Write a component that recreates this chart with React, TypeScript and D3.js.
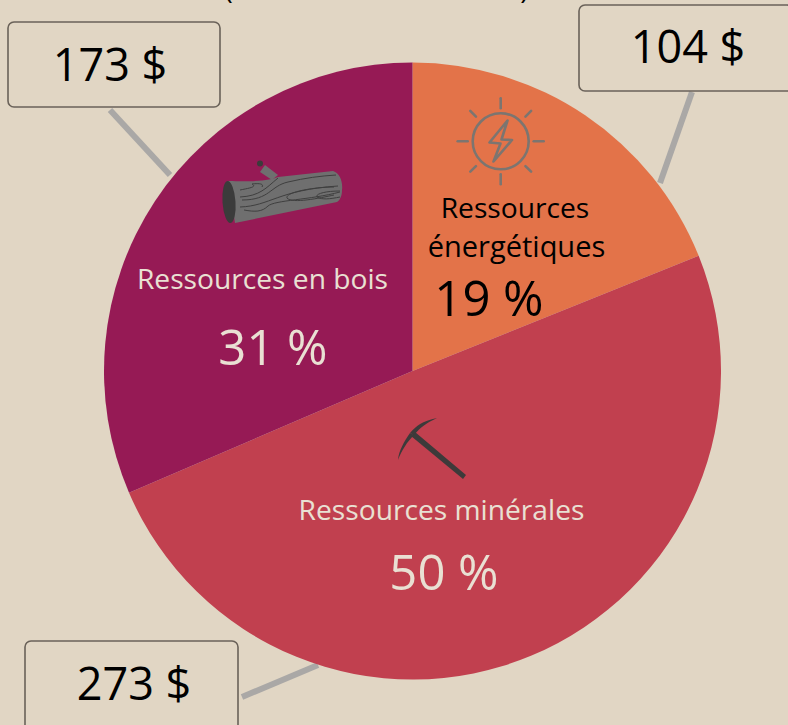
import * as d3 from "d3";

const categories = ["Ressources énergétiques", "Ressources minérales", "Ressources en bois"];
const amounts = [104, 273, 173];
const shares = ["19 %", "50 %", "31 %"];
const amountLabels = ["104 $", "273 $", "173 $"];
const colors = ["#e37349", "#c1404f", "#961a55"];

const W = 788;
const H = 725;
const cx = 412.5;
const cy = 371;
const radius = 308.5;
const font = "'Open Sans', sans-serif";
const bg = "#e1d6c4";
const light = "#e9e0d3";

// callout boxes and leader lines
const boxes = [
  { x: 579, y: 5, w: 214, h: 86, tx: 688, ty: 63, line: [692, 92, 660, 183] },
  { x: 25, y: 641, w: 213, h: 90, tx: 134, ty: 700, line: [242, 697, 318, 665] },
  { x: 8, y: 22, w: 212, h: 85, tx: 110, ty: 81, line: [110, 110, 170, 175] },
];

const sunRays = d3.range(8).map((i) => (i * Math.PI) / 4);

function LogIcon() {
  return (
    <g transform="translate(200,140)">
      <path d="M60,32 L65,25 L78,35 L72,40 Z" fill="#6f6f6f" />
      <circle cx={60} cy={23.5} r={3} fill="#3b3b3b" />
      <path d="M28,41 C60,42 70,40 78,37 L133,31 C140,33 143,42 142,50 C142,56 140,60 137,62 L35,83 Z" fill="#6f6f6f" />
      <ellipse cx={29} cy={62} rx={6.5} ry={21} fill="#3b3b3b" transform="rotate(-4 29 62)" />
      <g fill="none" stroke="#3f3f3f" strokeWidth={1}>
        <path d="M40,50 C50,48 57,47 52,44 C60,43 64,44 62,47" />
        <path d="M40,57 C60,56 66,48 78,38" />
        <path d="M42,60 C70,60 70,46 88,42 C105,38 120,36 136,35" />
        <path d="M40,67 C70,66 78,50 138,46" />
        <path d="M44,70 C55,72 62,72 68,66 C75,60 110,60 140,52" />
        <path d="M134,47 C115,47 85,52 87,58 C92,64 120,58 134,55" />
        <path d="M140,51 C125,51 115,54 117,57 C122,60 130,59 140,57" />
      </g>
    </g>
  );
}

function SunIcon() {
  const sx = 500.7;
  const sy = 141.3;
  return (
    <g stroke="#7c7570" fill="none" strokeWidth={2.6} strokeLinecap="round" strokeLinejoin="round">
      <circle cx={sx} cy={sy} r={28} />
      {sunRays.map((a, i) => {
        const long = i % 2 === 0;
        const r0 = long ? 33 : 35;
        const r1 = 43;
        return (
          <line
            key={i}
            x1={sx + r0 * Math.sin(a)}
            y1={sy - r0 * Math.cos(a)}
            x2={sx + r1 * Math.sin(a)}
            y2={sy - r1 * Math.cos(a)}
          />
        );
      })}
      <path d="M507.5,120.5 L489.5,142.5 L500.5,143.5 L493.5,161.5 L512,140 L501.5,139.5 Z" />
    </g>
  );
}

function PickIcon() {
  return (
    <g transform="translate(380,405)" fill="#3d3a3a">
      <path d="M31,31 L35,27 L86,70 L83,74 Z" />
      <path d="M57,13 C42,16 36,21 30,28 L34,30 C40,23 46,18 57,13 Z" />
      <path d="M18,55 C19,45 24,37 30,28 L34,30 C27,37 22,45 18,55 Z" />
    </g>
  );
}

export default function App() {
  const pie = d3.pie<number>().sort(null).value((d) => d);
  const arc = d3.arc<d3.PieArcDatum<number>>().innerRadius(0).outerRadius(radius);
  const arcs = pie(amounts);

  return (
    <svg
      width={W}
      height={H}
      viewBox={`0 0 ${W} ${H}`}
      style={{ position: "absolute", left: 0, top: 0, background: bg, fontFamily: font }}
    >
      <text x={376.5} y={-1} textAnchor="middle" fontSize={28} fill="#000">
        (en milliards de dollars)
      </text>

      {boxes.map((b, i) => (
        <line
          key={i}
          x1={b.line[0]}
          y1={b.line[1]}
          x2={b.line[2]}
          y2={b.line[3]}
          stroke="#aaa8a6"
          strokeWidth={6}
        />
      ))}

      <g transform={`translate(${cx},${cy})`}>
        {arcs.map((d, i) => (
          <path key={i} d={arc(d) as string} fill={colors[i]} />
        ))}
      </g>

      {boxes.map((b, i) => (
        <g key={i}>
          <rect x={b.x} y={b.y} width={b.w} height={b.h} rx={6} fill={bg} stroke="#6a6259" strokeWidth={1.6} />
          <text x={b.tx} y={b.ty} textAnchor="middle" fontSize={45} fill="#000">
            {amountLabels[i]}
          </text>
        </g>
      ))}

      <LogIcon />
      <SunIcon />
      <PickIcon />

      <text textAnchor="middle" fill="#000">
        <tspan x={515} y={218} fontSize={28.2}>Ressources</tspan>
        <tspan x={516.5} y={257} fontSize={29}>énergétiques</tspan>
      </text>
      <text x={489} y={316} textAnchor="middle" fontSize={49} fill="#000">{shares[0]}</text>

      <text x={441.5} y={520} textAnchor="middle" fontSize={28.2} fill={light}>{categories[1]}</text>
      <text x={444} y={590} textAnchor="middle" fontSize={49} fill={light}>{shares[1]}</text>

      <text x={262.5} y={289} textAnchor="middle" fontSize={28.2} fill={light}>{categories[2]}</text>
      <text x={273} y={365} textAnchor="middle" fontSize={49} fill={light}>{shares[2]}</text>
    </svg>
  );
}
